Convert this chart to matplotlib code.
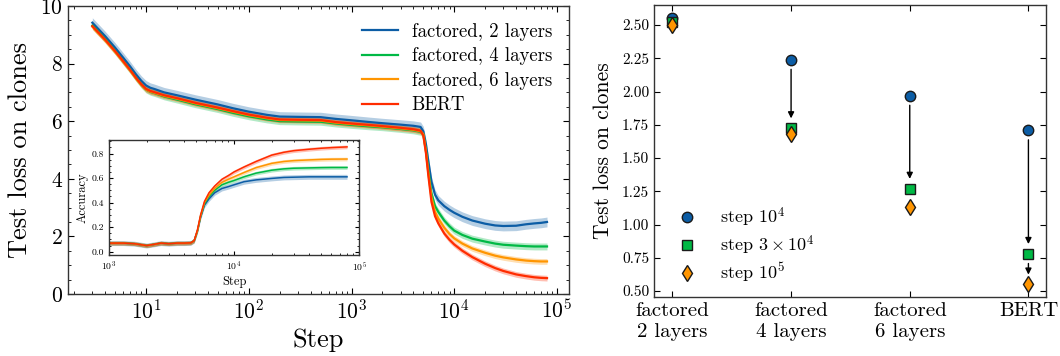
import numpy as np
import matplotlib
matplotlib.use("Agg")
import matplotlib.pyplot as plt
from matplotlib.ticker import FormatStrFormatter, LogLocator, MultipleLocator, NullFormatter

plt.rcParams['font.family'] = ['cmr10', 'DejaVu Serif']
plt.rcParams['mathtext.fontset'] = 'cm'
plt.rcParams['axes.formatter.use_mathtext'] = True
plt.rcParams['axes.unicode_minus'] = False

# ---------------- data ----------------
series_labels = ["factored, 2 layers", "factored, 4 layers", "factored, 6 layers", "BERT"]
colors = ["#0C5DA5", "#00B945", "#FF9500", "#FF2C00"]

steps = [3, 4, 5, 6, 7, 8, 9, 10, 11, 12, 15, 20, 30, 50, 70, 100, 150, 200, 300, 500, 700,
         1000, 1500, 2000, 3000, 4000, 4700, 5000, 5300, 5600, 6000, 6500, 7000, 8000, 9000,
         10000, 12000, 15000, 20000, 25000, 30000, 40000, 50000, 60000, 70000, 80000]

loss_2 = [9.42, 8.95, 8.55, 8.20, 7.90, 7.62, 7.40, 7.24, 7.16, 7.12, 7.00, 6.90, 6.75, 6.58, 6.45,
          6.33, 6.22, 6.16, 6.15, 6.14, 6.08, 6.03, 5.97, 5.93, 5.88, 5.84, 5.80, 5.65, 5.20, 4.60,
          3.90, 3.45, 3.25, 3.05, 2.92, 2.82, 2.68, 2.55, 2.44, 2.38, 2.36, 2.37, 2.42, 2.45, 2.47, 2.50]
loss_4 = [9.32, 8.85, 8.44, 8.08, 7.78, 7.50, 7.27, 7.10, 7.02, 6.98, 6.86, 6.75, 6.59, 6.42, 6.29,
          6.17, 6.06, 6.00, 5.99, 5.98, 5.92, 5.87, 5.82, 5.79, 5.73, 5.68, 5.63, 5.55, 5.00, 4.30,
          3.50, 3.05, 2.85, 2.55, 2.35, 2.20, 2.05, 1.92, 1.82, 1.75, 1.71, 1.68, 1.66, 1.65, 1.65, 1.65]
loss_6 = [9.28, 8.81, 8.41, 8.06, 7.76, 7.48, 7.26, 7.10, 7.03, 6.99, 6.88, 6.78, 6.62, 6.45, 6.33,
          6.21, 6.10, 6.04, 6.03, 6.02, 5.95, 5.90, 5.85, 5.81, 5.75, 5.70, 5.65, 5.55, 4.95, 4.20,
          3.35, 2.85, 2.62, 2.30, 2.08, 1.93, 1.75, 1.58, 1.43, 1.33, 1.27, 1.20, 1.16, 1.14, 1.13, 1.13]
loss_bert = [9.30, 8.83, 8.43, 8.08, 7.78, 7.50, 7.28, 7.12, 7.05, 7.01, 6.90, 6.80, 6.64, 6.47, 6.35,
             6.23, 6.12, 6.06, 6.05, 6.04, 5.97, 5.92, 5.87, 5.83, 5.77, 5.72, 5.67, 5.50, 4.90, 4.10,
             3.20, 2.70, 2.45, 2.10, 1.88, 1.72, 1.50, 1.28, 1.05, 0.90, 0.80, 0.68, 0.62, 0.58, 0.56, 0.55]
loss_band = [0.17, 0.12, 0.10, 0.10]

inset_steps = [1000, 1300, 1600, 2000, 2300, 2600, 3000, 3500, 4000, 4500, 4800, 5100, 5400, 5800,
               6300, 7000, 8000, 9000, 10000, 12000, 15000, 20000, 25000, 30000, 40000, 50000, 60000, 80000]
acc_2 = [0.07, 0.07, 0.065, 0.05, 0.06, 0.07, 0.065, 0.07, 0.07, 0.072, 0.09, 0.17, 0.28, 0.38,
         0.43, 0.48, 0.515, 0.53, 0.545, 0.57, 0.585, 0.597, 0.605, 0.607, 0.61, 0.61, 0.61, 0.61]
acc_4 = [0.07, 0.07, 0.065, 0.05, 0.06, 0.07, 0.065, 0.07, 0.07, 0.072, 0.09, 0.17, 0.29, 0.39,
         0.45, 0.50, 0.545, 0.565, 0.58, 0.61, 0.64, 0.664, 0.675, 0.68, 0.683, 0.685, 0.686, 0.686]
acc_6 = [0.07, 0.07, 0.065, 0.05, 0.06, 0.07, 0.065, 0.07, 0.07, 0.072, 0.09, 0.17, 0.29, 0.40,
         0.46, 0.515, 0.565, 0.59, 0.61, 0.645, 0.685, 0.72, 0.735, 0.742, 0.748, 0.752, 0.754, 0.755]
acc_bert = [0.07, 0.07, 0.065, 0.05, 0.06, 0.07, 0.065, 0.07, 0.07, 0.072, 0.09, 0.18, 0.30, 0.41,
            0.48, 0.535, 0.59, 0.62, 0.65, 0.69, 0.735, 0.787, 0.81, 0.823, 0.835, 0.843, 0.848, 0.854]
acc_band = [0.02, 0.015, 0.015, 0.015]

models = ["factored\n2 layers", "factored\n4 layers", "factored\n6 layers", "BERT"]
loss_step_1e4 = [2.55, 2.24, 1.97, 1.71]
loss_step_3e4 = [2.52, 1.725, 1.27, 0.78]
loss_step_1e5 = [2.50, 1.68, 1.13, 0.55]
point_labels = [r"step $10^4$", r"step $3\times10^4$", r"step $10^5$"]

# ---------------- figure ----------------
fig = plt.figure(figsize=(10.6, 3.56), dpi=100)
ax = fig.add_axes([0.0642, 0.1742, 0.4726, 0.809])
axin = fig.add_axes([0.1028, 0.2837, 0.236, 0.323])
ax2 = fig.add_axes([0.617, 0.1657, 0.370, 0.820])

def style(a, size_major=4, size_minor=2):
    a.tick_params(which='both', direction='in', top=True, right=True)
    a.tick_params(which='major', length=size_major, width=0.8)
    a.tick_params(which='minor', length=size_minor, width=0.6)
    for s in a.spines.values():
        s.set_linewidth(1.0)
        s.set_color('#333333')

# main loss curves
for y, lab, c, b in zip([loss_2, loss_4, loss_6, loss_bert], series_labels, colors, loss_band):
    y = np.asarray(y)
    ax.fill_between(steps, y - b, y + b, color=c, alpha=0.3, lw=0)
    ax.plot(steps, y, color=c, lw=1.6, label=lab)
ax.set_xscale('log')
ax.set_xlim(1.74, 1.31e5)
ax.set_ylim(0, 10)
ax.yaxis.set_major_locator(MultipleLocator(2))
ax.yaxis.set_minor_locator(MultipleLocator(0.5))
ax.xaxis.set_major_locator(LogLocator(base=10, numticks=10))
ax.xaxis.set_minor_locator(LogLocator(base=10, subs=np.arange(2, 10), numticks=20))
ax.xaxis.set_minor_formatter(NullFormatter())
style(ax)
ax.tick_params(which='major', labelsize=15.5)
ax.set_xlabel("Step", fontsize=19, labelpad=4)
ax.set_ylabel("Test loss on clones", fontsize=19, labelpad=6)
ax.legend(loc='upper right', frameon=False, fontsize=13.5, handlelength=1.9,
          handletextpad=0.75, labelspacing=0.35, bbox_to_anchor=(1.0, 1.0))

# inset accuracy
for y, c, b in zip([acc_2, acc_4, acc_6, acc_bert], colors, acc_band):
    y = np.asarray(y)
    axin.fill_between(inset_steps, y - b, y + b, color=c, alpha=0.3, lw=0)
    axin.plot(inset_steps, y, color=c, lw=1.1)
axin.set_xscale('log')
axin.set_xlim(1e3, 1e5)
axin.set_ylim(-0.027, 0.91)
axin.yaxis.set_major_locator(MultipleLocator(0.2))
axin.yaxis.set_minor_locator(MultipleLocator(0.05))
axin.yaxis.set_major_formatter(FormatStrFormatter('%.1f'))
axin.xaxis.set_minor_locator(LogLocator(base=10, subs=np.arange(2, 10), numticks=20))
axin.xaxis.set_minor_formatter(NullFormatter())
style(axin, size_major=3, size_minor=1.5)
axin.tick_params(which='major', labelsize=7)
axin.set_xlabel("Step", fontsize=9, labelpad=2)
axin.set_ylabel("Accuracy", fontsize=9, labelpad=2)

# right panel
xpos = np.arange(len(models))
ax2.plot(xpos, loss_step_1e4, 'o', color=colors[0], mec='#1a1a1a', mew=1.0, ms=7.5,
         ls='none', label=point_labels[0], zorder=3)
ax2.plot(xpos, loss_step_3e4, 's', color=colors[1], mec='#1a1a1a', mew=1.0, ms=7,
         ls='none', label=point_labels[1], zorder=3)
ax2.plot(xpos, loss_step_1e5, 'd', color=colors[2], mec='#1a1a1a', mew=1.0, ms=8,
         ls='none', label=point_labels[2], zorder=3)
for i in range(len(models)):
    pairs = [(loss_step_1e4[i], loss_step_3e4[i]), (loss_step_3e4[i], loss_step_1e5[i])]
    for y0, y1 in pairs:
        if y0 - y1 > 0.2:
            ax2.annotate("", xy=(xpos[i], y1), xytext=(xpos[i], y0),
                         arrowprops=dict(arrowstyle='-|>', color='black', lw=1.0,
                                         shrinkA=7, shrinkB=7, mutation_scale=9))
ax2.set_xticks(xpos)
ax2.set_xticklabels(models, fontsize=15, linespacing=1.2)
ax2.set_xlim(-0.155, 3.15)
ax2.set_ylim(0.455, 2.65)
ax2.yaxis.set_major_locator(MultipleLocator(0.25))
ax2.yaxis.set_major_formatter(FormatStrFormatter('%.2f'))
style(ax2)
ax2.tick_params(axis='y', labelsize=11)
ax2.tick_params(axis='x', pad=4)
ax2.set_ylabel("Test loss on clones", fontsize=15.5, labelpad=6)
ax2.legend(loc='lower left', frameon=False, fontsize=13, handletextpad=0.8,
           labelspacing=0.22, bbox_to_anchor=(-0.003, -0.012))

fig.savefig("out.png", dpi=100)
